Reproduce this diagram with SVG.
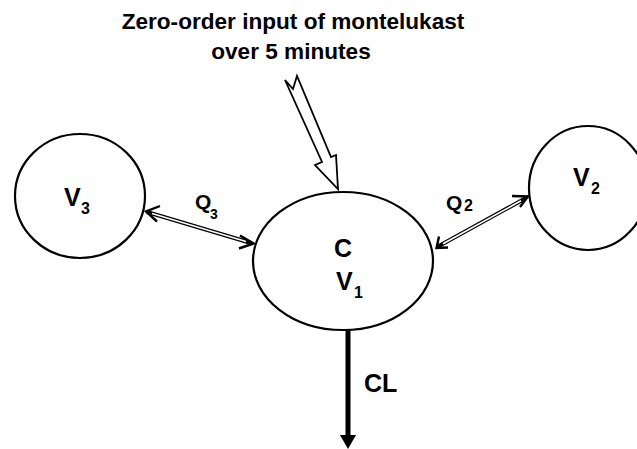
<svg xmlns="http://www.w3.org/2000/svg" width="637" height="449" viewBox="0 0 637 449">
  <style>
    .comp { fill: #ffffff; stroke: #000000; stroke-width: 2.2; }
    .lbl { font-family: "Liberation Sans", Arial, sans-serif; font-weight: bold; fill: #000000; }
    .big { font-size: 25px; }
    .sub { font-size: 16px; }
    .title { font-size: 22.6px; text-anchor: middle; }
    .dbl-outer { stroke: #000000; stroke-width: 4; fill: none; }
    .dbl-inner { stroke: #ffffff; stroke-width: 1.6; fill: none; }
    .head { fill: none; stroke: #000000; stroke-width: 2.4; stroke-linejoin: miter; stroke-linecap: butt; }
  </style>

  <rect width="637" height="449" fill="#ffffff"/>

  <!-- title -->
  <g id="title">
    <text class="lbl title" x="293" y="29">Zero-order input of montelukast</text>
    <text class="lbl title" x="291" y="59">over 5 minutes</text>
  </g>

  <!-- compartments -->
  <g id="node-v3">
    <ellipse class="comp" cx="80" cy="196" rx="65" ry="62"/>
    <text class="lbl big" x="64" y="206">V</text>
    <text class="lbl sub" x="81" y="214">3</text>
  </g>

  <g id="node-v2">
    <ellipse class="comp" cx="588" cy="188" rx="59" ry="62"/>
    <text class="lbl big" x="573" y="186">V</text>
    <text class="lbl sub" x="591" y="194">2</text>
  </g>

  <g id="node-v1">
    <ellipse class="comp" cx="343" cy="261" rx="90" ry="69"/>
    <text class="lbl big" x="334" y="257">C</text>
    <text class="lbl big" x="336" y="290">V</text>
    <text class="lbl sub" x="354" y="298">1</text>
  </g>

  <!-- connectors -->
  <g id="connectors">
    <!-- Q3 exchange: V3 <-> V1 -->
    <g id="edge-q3">
      <line class="dbl-outer" x1="147" y1="212" x2="251" y2="243"/>
      <line class="dbl-inner" x1="152" y1="213.5" x2="246" y2="241.5"/>
      <path class="head" d="M160,206 L146,211.5 L157,221.5"/>
      <path class="head" d="M240,235.5 L253.5,243.5 L239,248.5"/>
      <text class="lbl" font-size="21" x="195" y="209">Q</text>
      <text class="lbl" font-size="14" x="210" y="219">3</text>
    </g>

    <!-- Q2 exchange: V1 <-> V2 -->
    <g id="edge-q2">
      <line class="dbl-outer" x1="438" y1="246.5" x2="526" y2="198"/>
      <line class="dbl-inner" x1="443" y1="243.8" x2="521" y2="200.8"/>
      <path class="head" d="M512,196 L528,196.5 L520,207"/>
      <path class="head" d="M439,236.5 L436.5,248 L448,247.5"/>
      <text class="lbl" font-size="21" x="446" y="210">Q</text>
      <text class="lbl" font-size="16" x="464" y="211">2</text>
    </g>

    <!-- zero-order input -->
    <g id="edge-input">
      <polygon points="285,80 293,89 297,76 331,157 336,155 338,189 315,165 322,162"
               fill="#ffffff" stroke="#000000" stroke-width="1.8" stroke-linejoin="miter"/>
    </g>

    <!-- clearance -->
    <g id="edge-cl">
      <line x1="348" y1="330" x2="348" y2="438" stroke="#000000" stroke-width="5"/>
      <polygon points="340,435 356,435 348,449" fill="#000000"/>
      <text class="lbl" font-size="25" x="364" y="392">CL</text>
    </g>
  </g>
</svg>
